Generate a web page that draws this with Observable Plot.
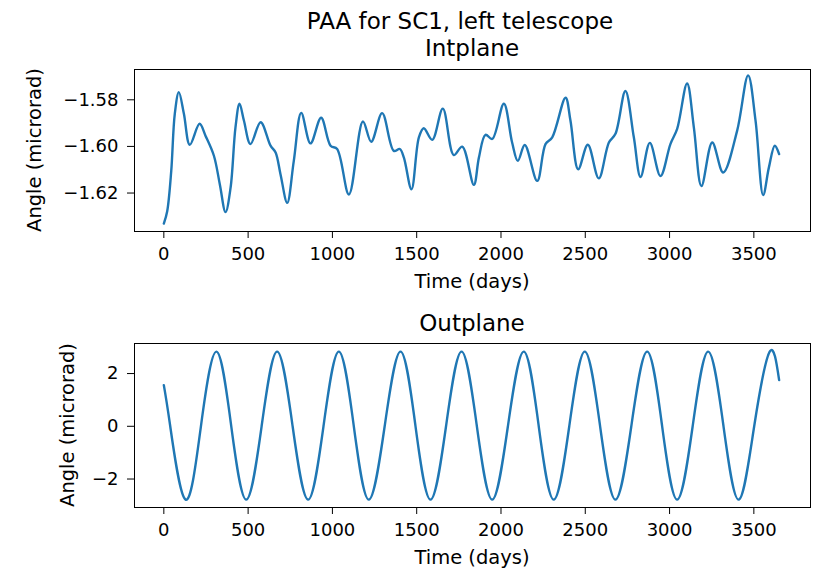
<!DOCTYPE html>
<html>
<head>
<meta charset="utf-8">
<script src="https://cdn.jsdelivr.net/npm/d3@7"></script>
<script src="https://cdn.jsdelivr.net/npm/@observablehq/plot@0.6"></script>
<style>
  body { margin: 0; background: white; }
  #root { position: relative; width: 821px; height: 573px; font-family: "DejaVu Sans", sans-serif; color: black; }
  .t { position: absolute; white-space: nowrap; line-height: 1; transform: translate(-50%, -50%); }
  .yl { position: absolute; white-space: nowrap; line-height: 1; transform: translate(-50%, -50%) rotate(-90deg); }
  .p { position: absolute; left: 0; }
</style>
</head>
<body>
<div id="root">
  <div class="t" style="left:460px;top:21px;font-size:23px">PAA for SC1, left telescope</div>
  <div class="t" style="left:472px;top:48px;font-size:23px">Intplane</div>
  <div class="t" style="left:472px;top:282px;font-size:19.5px">Time (days)</div>
  <div class="yl" style="left:35px;top:150px;font-size:19.5px">Angle (microrad)</div>
  <div class="t" style="left:472px;top:323px;font-size:23px">Outplane</div>
  <div class="t" style="left:472px;top:558px;font-size:19.5px">Time (days)</div>
  <div class="yl" style="left:68px;top:425px;font-size:19.5px">Angle (microrad)</div>
  <div id="top" class="p" style="top:0px"></div>
  <div id="bot" class="p" style="top:300px"></div>
</div>
<script>
// Intplane (top panel) values
const inDays = [0, 20, 44, 65, 89, 119, 154, 212, 247, 297, 332, 366, 396, 425, 449, 475, 514, 574, 633, 663, 692, 732, 771, 815, 870, 933, 989, 1028, 1098, 1181, 1230, 1295, 1364, 1400, 1424, 1469, 1513, 1542, 1592, 1655, 1720, 1770, 1839, 1869, 1908, 1948, 2017, 2066, 2100, 2141, 2215, 2264, 2304, 2383, 2412, 2458, 2515, 2580, 2640, 2679, 2738, 2788, 2828, 2883, 2946, 3005, 3045, 3104, 3144, 3189, 3253, 3318, 3401, 3466, 3510, 3555, 3589, 3624, 3650];
const inVals = [-1.6331, -1.6278, -1.6105, -1.5860, -1.5767, -1.5860, -1.5993, -1.5903, -1.5954, -1.6040, -1.6162, -1.6282, -1.6177, -1.5918, -1.5817, -1.5889, -1.5990, -1.5896, -1.5997, -1.6026, -1.6119, -1.6242, -1.6062, -1.5856, -1.5987, -1.5877, -1.5997, -1.6011, -1.6206, -1.5893, -1.5980, -1.5857, -1.6019, -1.6011, -1.6048, -1.6184, -1.5961, -1.5922, -1.5972, -1.5838, -1.6037, -1.6001, -1.6165, -1.6048, -1.5950, -1.5968, -1.5817, -1.5983, -1.6062, -1.5994, -1.6148, -1.5990, -1.5961, -1.5791, -1.5889, -1.6098, -1.5993, -1.6137, -1.5983, -1.5946, -1.5762, -1.5961, -1.6131, -1.5985, -1.6127, -1.5990, -1.5925, -1.5730, -1.5918, -1.6170, -1.5983, -1.6112, -1.5932, -1.5695, -1.5889, -1.6209, -1.6091, -1.5997, -1.6033];

// Outplane (bottom panel) values
const outDays = [0, 38, 129, 220, 312, 400, 489, 580, 672, 764, 856, 947, 1038, 1127, 1216, 1310, 1404, 1493, 1582, 1674, 1766, 1857, 1948, 2041, 2135, 2224, 2313, 2405, 2497, 2588, 2679, 2773, 2867, 2956, 3045, 3137, 3229, 3320, 3410, 3502, 3594, 3650];
const outVals = [1.56, 0, -2.78, 0, 2.83, 0, -2.78, 0, 2.83, 0, -2.78, 0, 2.83, 0, -2.78, 0, 2.83, 0, -2.78, 0, 2.83, 0, -2.78, 0, 2.83, 0, -2.78, 0, 2.83, 0, -2.78, 0, 2.83, 0, -2.78, 0, 2.83, 0, -2.78, 0, 2.83, 1.75];

const xTicks = [0, 500, 1000, 1500, 2000, 2500, 3000, 3500];
const inTicks = [-1.62, -1.60, -1.58];
const outTicks = [-2, 0, 2];

const inData = inDays.map((d, i) => ({day: d, v: inVals[i]}));
const outData = outDays.map((d, i) => ({day: d, v: outVals[i]}));

const common = {
  width: 821,
  marginLeft: 134,
  marginRight: 11,
  style: {fontFamily: "DejaVu Sans, sans-serif", fontSize: "18px", color: "black", background: "transparent", overflow: "visible"}
};

const topPlot = Plot.plot({
  ...common,
  height: 300,
  marginTop: 69,
  marginBottom: 69,
  x: {domain: [-174, 3836], ticks: xTicks, tickFormat: d3.format("d"), tickSize: 7, tickPadding: 9, label: null},
  y: {domain: [-1.6365, -1.567], ticks: inTicks, tickFormat: d3.format(".2f"), tickSize: 7, tickPadding: 9, label: null},
  marks: [
    Plot.line(inData, {x: "day", y: "v", stroke: "#1f77b4", strokeWidth: 2.4, curve: "catmull-rom"}),
    Plot.frame({stroke: "black", strokeWidth: 1})
  ]
});

const botPlot = Plot.plot({
  ...common,
  height: 273,
  marginTop: 43,
  marginBottom: 66,
  x: {domain: [-174, 3836], ticks: xTicks, tickFormat: d3.format("d"), tickSize: 7, tickPadding: 9, label: null},
  y: {domain: [-3.08, 3.14], ticks: outTicks, tickFormat: d3.format("d"), tickSize: 7, tickPadding: 9, label: null},
  marks: [
    Plot.line(outData, {x: "day", y: "v", stroke: "#1f77b4", strokeWidth: 2.4, curve: "natural"}),
    Plot.frame({stroke: "black", strokeWidth: 1})
  ]
});

document.getElementById("top").appendChild(topPlot);
document.getElementById("bot").appendChild(botPlot);
</script>
</body>
</html>
